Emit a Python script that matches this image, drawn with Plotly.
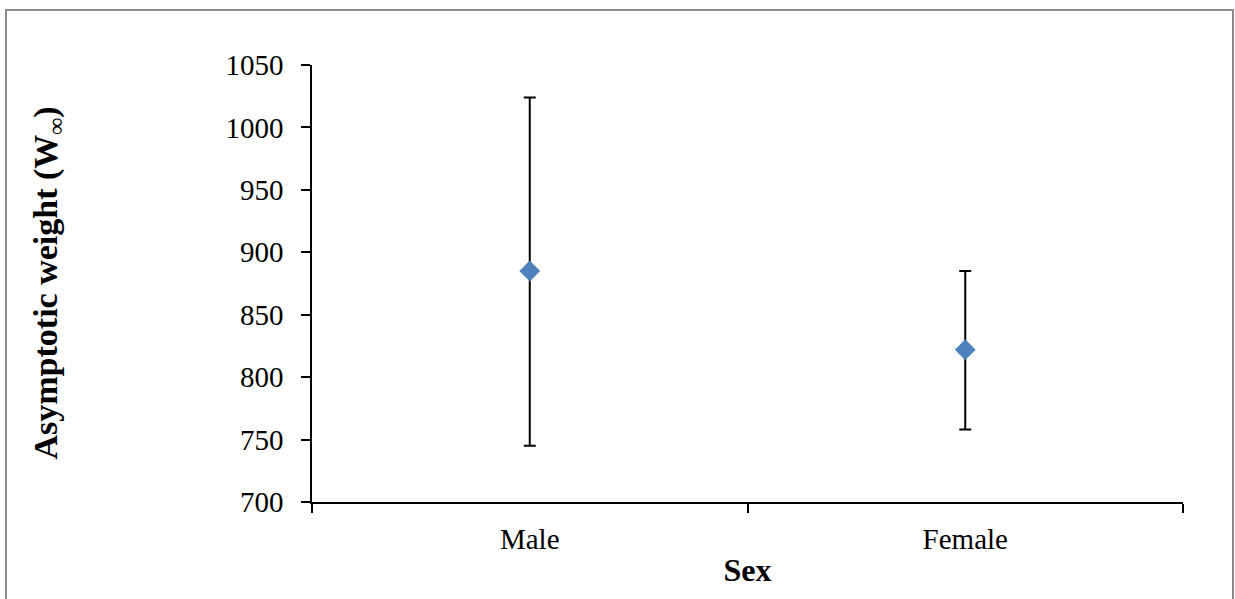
import plotly.graph_objects as go

# Asymptotic weight estimates by sex, with asymmetric confidence limits
sexes = ["Male", "Female"]
w_inf = [885, 822]
upper_limit = [1024, 885]
lower_limit = [745, 758]

err_plus = [u - m for u, m in zip(upper_limit, w_inf)]
err_minus = [m - l for m, l in zip(w_inf, lower_limit)]

W, H = 1235, 599
L, R, T, B = 312, 52, 65, 97
pw, ph = W - L - R, H - T - B


def px_to_paper_x(p):
    return (p - L) / pw


def px_to_paper_y(p):
    return (H - B - p) / ph


fig = go.Figure()
fig.add_trace(go.Scatter(
    x=sexes, y=w_inf, mode="markers",
    marker=dict(symbol="diamond", size=16, color="#4F81BD",
                line=dict(width=0)),
    error_y=dict(type="data", symmetric=False, array=err_plus,
                 arrayminus=err_minus, color="black", thickness=2, width=6),
    showlegend=False,
))

font_family = "Liberation Serif"
tick_size = 29

fig.update_layout(
    width=W, height=H,
    margin=dict(l=L, r=R, t=T, b=B),
    paper_bgcolor="white", plot_bgcolor="white",
    font=dict(family=font_family, size=tick_size, color="black"),
    xaxis=dict(
        type="category", range=[-0.5, 1.5], tickson="boundaries",
        ticks="outside", ticklen=9,
        tickwidth=1.5, tickcolor="black", showline=True, linecolor="black",
        linewidth=1.5, showgrid=False, zeroline=False,
        tickfont=dict(size=tick_size, family=font_family, color="black"),
        ticklabelstandoff=10,
        title=dict(text="<b>Sex</b>",
                   font=dict(size=32, family=font_family, color="black"),
                   standoff=5),
    ),
    yaxis=dict(
        range=[700, 1050], dtick=50, ticks="outside", ticklen=9,
        tickwidth=1.5, tickcolor="black", showline=True, linecolor="black",
        linewidth=1.5, showgrid=False, zeroline=False,
        tickfont=dict(size=tick_size, family=font_family, color="black"),
        ticklabelstandoff=12,
    ),
    annotations=[dict(
        text="<b>Asymptotic weight (W<sub>∞</sub>)</b>",
        xref="paper", yref="paper",
        x=px_to_paper_x(47), y=0.5, xanchor="center", yanchor="middle",
        textangle=-90, showarrow=False,
        font=dict(size=34, family=font_family, color="black"),
    )],
    shapes=[dict(
        type="rect", xref="paper", yref="paper",
        x0=px_to_paper_x(6), x1=px_to_paper_x(1233),
        y0=px_to_paper_y(640), y1=px_to_paper_y(10),
        line=dict(color="#8c8c8c", width=2), fillcolor="rgba(0,0,0,0)",
        layer="below",
    )],
)

fig.write_html("out.html")
